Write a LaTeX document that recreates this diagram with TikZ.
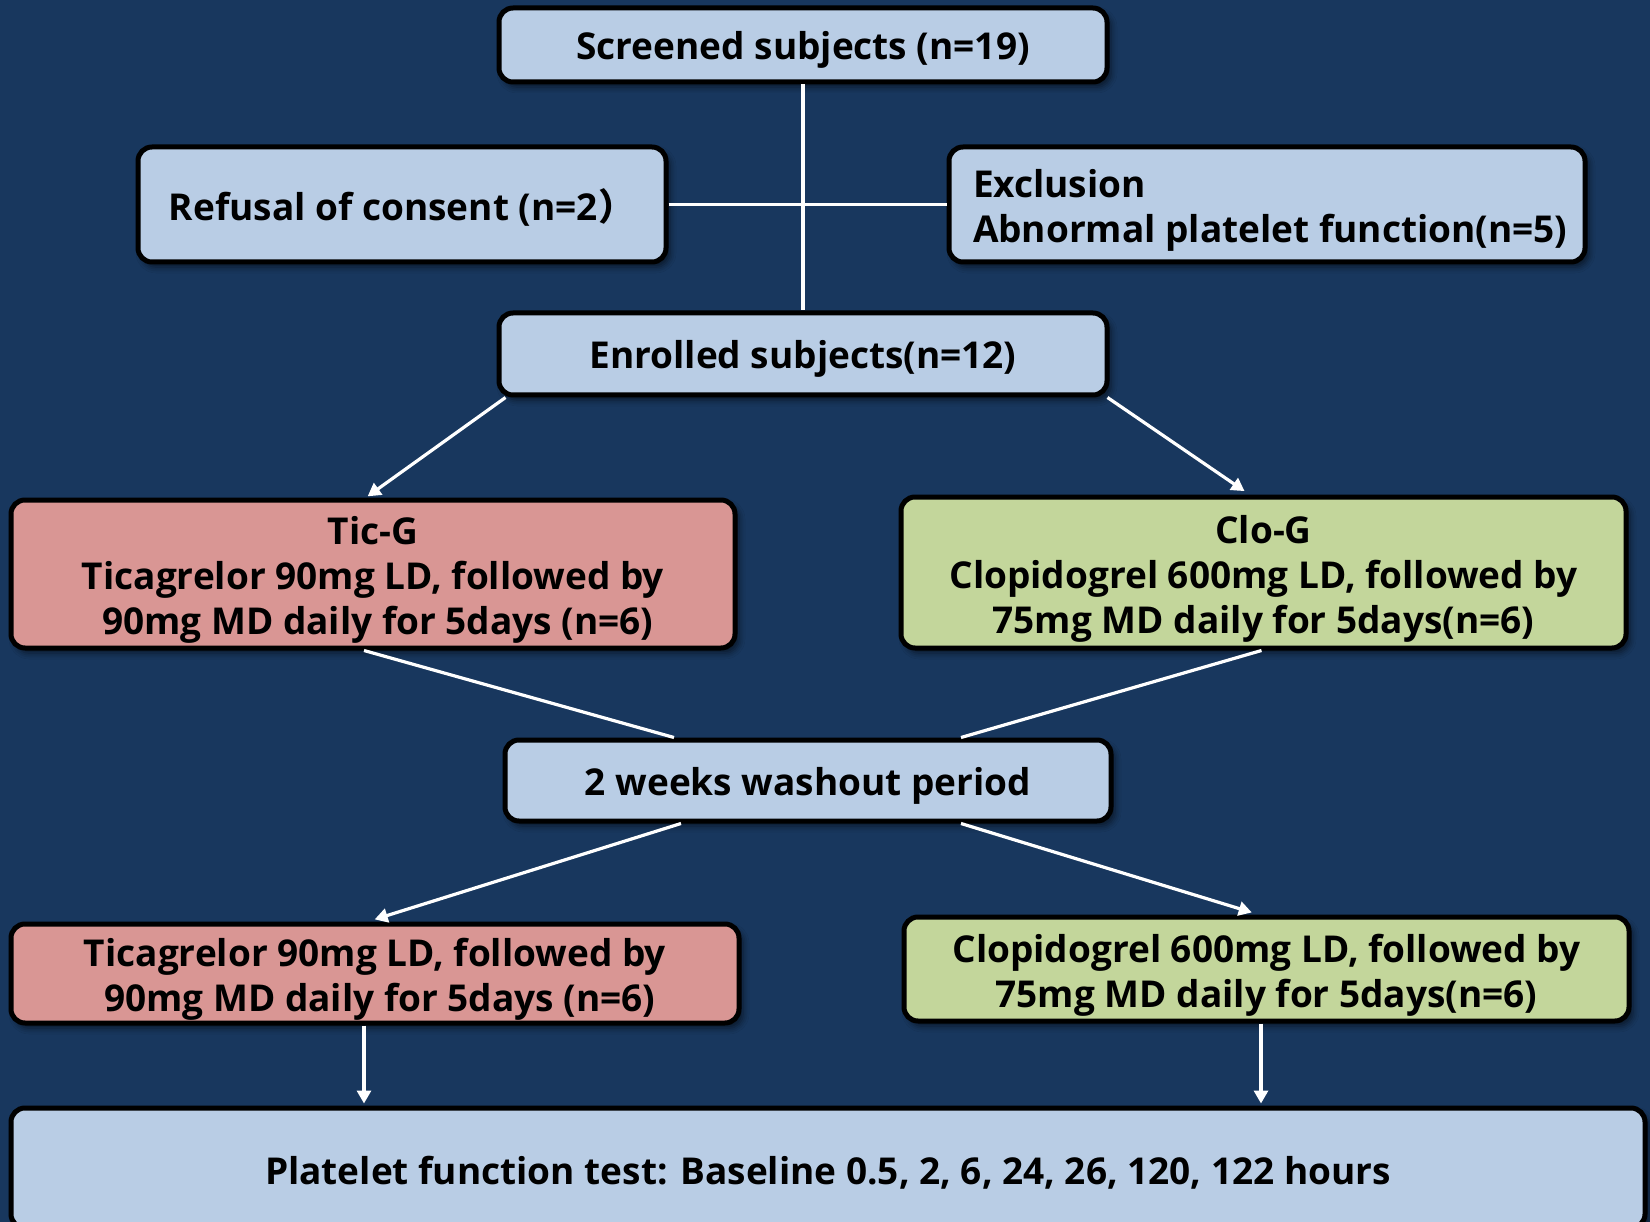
\documentclass[tikz,border=0pt]{standalone}
\usepackage{fontspec}
\setmainfont{Open Sans}
\newfontfamily\cjk{Noto Sans CJK KR}
\usetikzlibrary{arrows.meta,shadows.blur,calc}
\definecolor{navy}{RGB}{24,55,94}
\definecolor{boxblue}{RGB}{185,205,229}
\definecolor{boxpink}{RGB}{217,150,148}
\definecolor{boxgreen}{RGB}{195,214,155}
% taller first line, to sit the text a little lower in its box
\newcommand\firstline{\rule{0pt}{40pt}}

\begin{document}
\begin{tikzpicture}[x=1pt,y=-1pt,
  box/.style={draw=black, line width=5pt, rounded corners=14pt, fill=boxblue,
    align=center, inner sep=0pt, text=black,
    font=\fontsize{37}{45}\selectfont\bfseries,
    blur shadow={shadow xshift=4pt, shadow yshift=-5pt, shadow blur radius=6pt, shadow opacity=55}},
  onebox/.style={box, execute at begin node={\rule{0pt}{38pt}}},
  link/.style={draw=white, line width=3.2pt},
  arrowlink/.style={link, -{Triangle[length=13pt,width=14pt]}}]

  % canvas
  \fill[navy] (0,0) rectangle (1650,1222);
  \useasboundingbox (0,0) rectangle (1650,1222);

  % boxes
  \node[onebox, minimum width=608pt, minimum height=74pt] (scr) at (803,45) {Screened subjects (n=19)};
  \node[onebox, minimum width=528pt, minimum height=115pt] (ref) at (402,204.5) {Refusal of consent (n=2{\cjk ）}};
  \node[box, minimum width=636pt, minimum height=115pt, align=left] (exc) at (1267,204.5)
    {\firstline\makebox[588pt][l]{Exclusion}\\\makebox[588pt][l]{Abnormal platelet function(n=5)}};
  \node[onebox, minimum width=608pt, minimum height=82pt] (enr) at (803,354) {Enrolled subjects(n=12)};
  \node[box, fill=boxpink, minimum width=724pt, minimum height=148pt] (tic) at (373,574)
    {\firstline Tic-G\\Ticagrelor 90mg LD, followed by\\\ 90mg MD daily for 5days (n=6)};
  \node[box, fill=boxgreen, minimum width=725pt, minimum height=151pt] (clo) at (1263.5,572.5)
    {\firstline Clo-G\\Clopidogrel 600mg LD, followed by\\75mg MD daily for 5days(n=6)};
  \node[onebox, minimum width=606pt, minimum height=81pt] (wash) at (808,780.5) {2 weeks washout period};
  \node[box, fill=boxpink, minimum width=728pt, minimum height=99pt] (tic2) at (375,973.5)
    {\firstline Ticagrelor 90mg LD, followed by\\\ 90mg MD daily for 5days (n=6)};
  \node[box, fill=boxgreen, minimum width=725pt, minimum height=104pt] (clo2) at (1266.5,969)
    {\firstline Clopidogrel 600mg LD, followed by\\75mg MD daily for 5days(n=6)};
  \node[onebox, minimum width=1634pt, minimum height=120pt] (plat) at (828,1168)
    {Platelet function test: Baseline 0.5, 2, 6, 24, 26, 120, 122 hours};

  % screening flow
  \draw[link] (scr.south) -- (enr.north);
  \draw[link] (ref.east) -- (exc.west);

  % randomisation
  \draw[arrowlink, shorten >=2pt] ([xshift=9pt]enr.south west) -- ([xshift=-7pt]tic.north);
  \draw[arrowlink, shorten >=6pt] ([xshift=-2pt]enr.south east) -- ([xshift=-14pt]clo.north);

  % into washout
  \draw[link] ([xshift=-9pt]tic.south) -- ([xshift=-134pt]wash.north);
  \draw[link] ([xshift=-2pt]clo.south) -- ([xshift=153pt]wash.north);

  % crossover
  \draw[arrowlink, shorten >=7pt] ([xshift=-127pt]wash.south) -- ([xshift=-7pt]tic2.north);
  \draw[arrowlink, shorten >=7pt] ([xshift=153pt]wash.south) -- ([xshift=-8pt]clo2.north);

  % testing
  \coordinate (ta) at ([xshift=-11pt]tic2.south);
  \coordinate (ca) at ([xshift=-5.5pt]clo2.south);
  \draw[arrowlink, shorten >=2pt] (ta) -- (ta |- plat.north);
  \draw[arrowlink, shorten >=2pt] (ca) -- (ca |- plat.north);
\end{tikzpicture}
\end{document}
